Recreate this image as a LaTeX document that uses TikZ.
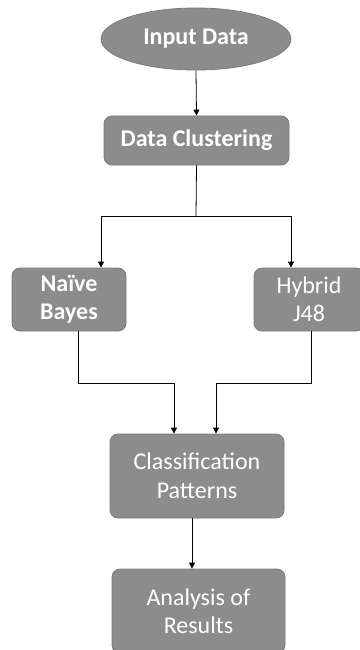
\documentclass[tikz,border=0pt]{standalone}
\usepackage{fontspec}
\setmainfont{Carlito}
\usetikzlibrary{shapes.geometric,arrows.meta}
\definecolor{boxfill}{HTML}{8C8C8C}
\definecolor{boxline}{HTML}{7A7A7A}
\tikzset{
  x=1pt,y=-1pt,
  bigfont/.style={font=\fontsize{24}{28.5}\selectfont},
  bigbold/.style={font=\fontsize{24}{28.5}\selectfont\bfseries},
  proc/.style={draw=boxline,line width=0.8pt,fill=boxfill,rounded corners=8pt,text=white,bigfont,align=center,inner sep=0pt},
  conn/.style={draw=black,line width=0.8pt},
  arr/.style={conn,-{Triangle[length=6pt,width=6pt]}}
}
\begin{document}
\begin{tikzpicture}
\useasboundingbox (0,0) rectangle (359,650);
\node[ellipse,draw=boxline,line width=0.8pt,fill=boxfill,text=white,bigbold,minimum width=190pt,minimum height=62pt,inner sep=0pt] (input) at (196,39) {Input Data};
\node[proc,bigbold,minimum width=185pt,minimum height=49pt] (clust) at (196.5,140.5) {Data Clustering};
\node[proc,bigbold,minimum width=114pt,minimum height=63pt] (nb) at (69,299.5) {Naïve\\Bayes};
\node[proc,minimum width=110pt,minimum height=63pt,text width=104pt] (j48) at (309,299.5) {Hybrid\\J48};
\node[proc,minimum width=174pt,minimum height=84pt] (cls) at (197,476) {Classification\\Patterns};
\node[proc,minimum width=173pt,minimum height=84pt] (ana) at (198.5,611) {Analysis of\\Results};
\coordinate (split) at (196,216);
\draw[arr] (input.south) -- (clust.north);
\draw[conn] (clust.south) -- (split);
\draw[arr] (split) -| (nb.north -| 101,0);
\draw[arr] (split) -| (j48.north -| 291,0);
\draw[arr] (nb.south -| 78,0) |- (174,383) -- (cls.north -| 174,0);
\draw[arr] (j48.south -| 311,0) |- (216,383) -- (cls.north -| 216,0);
\draw[arr] (cls.south -| 192,0) -- (ana.north -| 192,0);
\end{tikzpicture}
\end{document}
